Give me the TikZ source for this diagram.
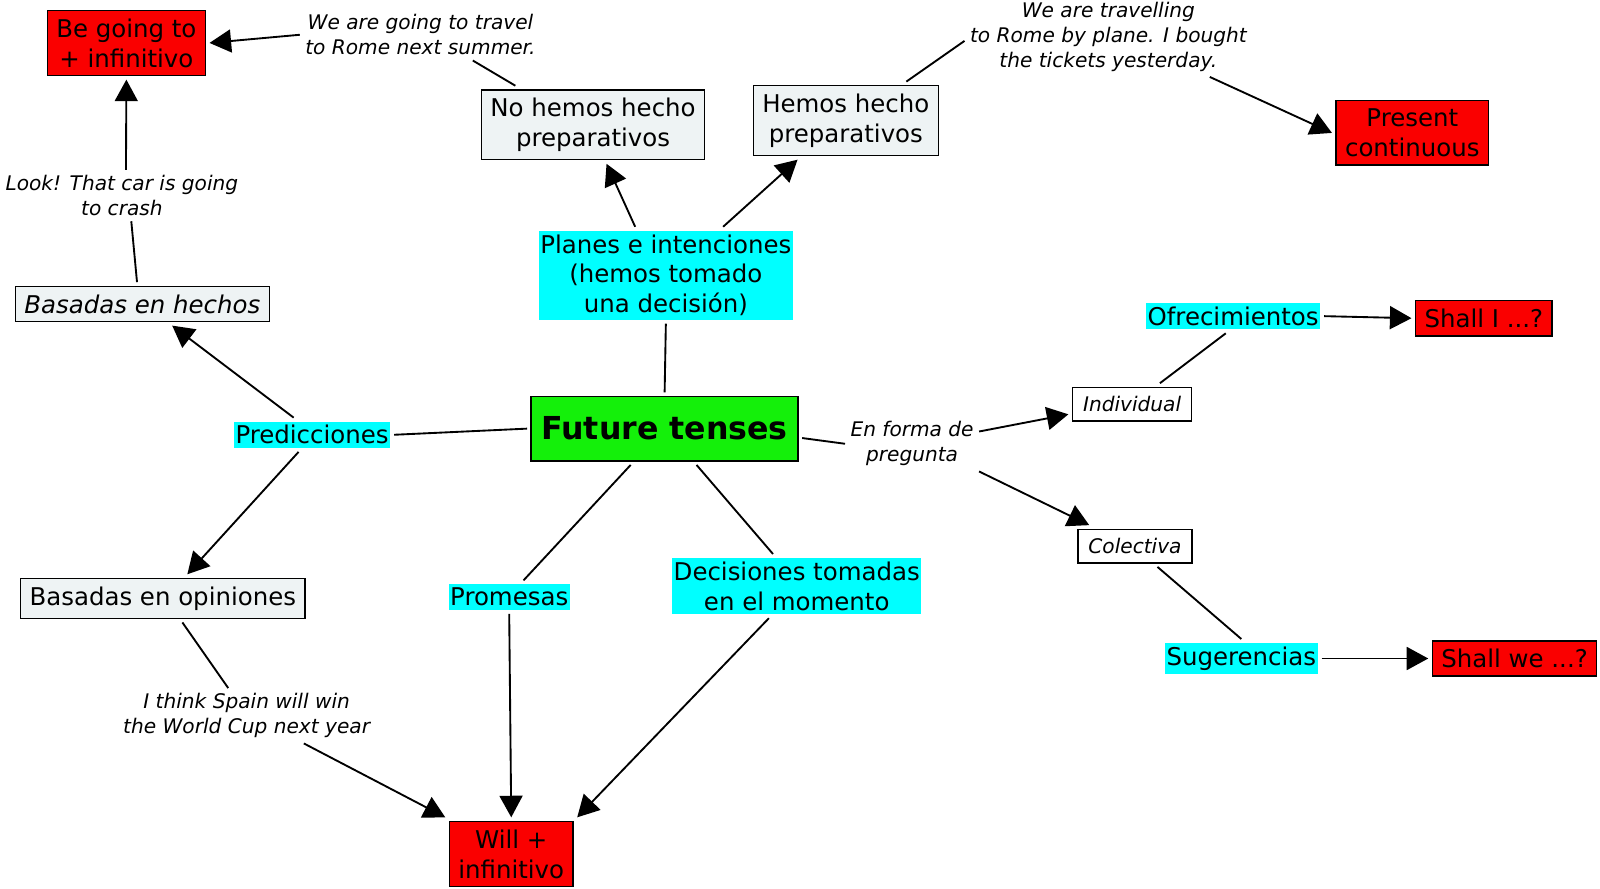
\documentclass[tikz,border=0pt]{standalone}
\usepackage{fontspec}
\setmainfont{DejaVu Sans}
\usepackage{xcolor}
\usetikzlibrary{arrows.meta}

\definecolor{boxgray}{RGB}{238,243,244}
\definecolor{tensered}{RGB}{250,0,0}
\definecolor{topiccyan}{RGB}{0,255,255}
\definecolor{titlegreen}{RGB}{20,240,10}

\begin{document}
\begin{tikzpicture}[
    % looks
    tense/.style={draw, line width=1pt, fill=tensered, align=center,
      inner xsep=0.22cm, inner ysep=0.2cm, outer sep=0.1cm,
      font=\fontsize{17}{20.8}\selectfont},
    idea/.style={draw, line width=1pt, fill=boxgray, align=center,
      inner xsep=0.22cm, inner ysep=0.2cm, outer sep=0.1cm,
      font=\fontsize{17}{20.8}\selectfont},
    topic/.style={fill=topiccyan, align=center, inner xsep=1pt, inner ysep=2.5pt,
      outer sep=0.1cm, font=\fontsize{17}{20.8}\selectfont},
    kind/.style={draw, line width=1pt, fill=white, inner xsep=0.26cm, inner ysep=0.22cm,
      outer sep=0.1cm, font=\fontsize{14}{17}\itshape},
    sample/.style={align=center, inner sep=1pt, outer sep=0.1cm,
      font=\fontsize{14}{17.3}\itshape},
    link/.style={line width=1.3pt},
    arrow/.style={line width=1.3pt, -{Triangle[length=15pt,width=16pt]}}
  ]
        \useasboundingbox (0, 0) rectangle (39.12, -21.735);

        % Future tenses
        \node [draw, line width=1pt, fill=titlegreen, inner xsep=0.25cm,
          minimum height=1.575cm, outer sep=0.1cm,
          font=\fontsize{22}{26}\bfseries] (future) at (16.25, -10.48) {Future tenses};

        % Planes e intenciones
        \node [topic] (planes) at (16.28, -6.73)
          {Planes e intenciones\\(hemos tomado\\una decisión)};
        \node [idea] (nohemos) at (14.5, -3.05) {No hemos hecho\\preparativos};
        \node [idea] (hemos) at (20.68, -2.95) {Hemos hecho\\preparativos};
        \node [sample] (travel) at (10.28, -0.85)
          {We are going to travel\\to Rome next summer.};
        \node [sample] (plane) at (27.1, -0.9)
          {We are travelling\\to Rome by plane. I bought\\the tickets yesterday.};
        \node [tense] (goingto) at (3.09, -1.05) {Be going to\\+ infinitivo};
        \node [tense] (present) at (34.53, -3.25) {Present\\continuous};

        % Predicciones
        \node [topic] (pred) at (7.63, -10.63) {Predicciones};
        \node [idea, font=\fontsize{17}{20.8}\itshape] (hechos) at (3.48, -7.43)
          {Basadas en hechos};
        \node [sample] (crash) at (2.98, -4.78) {Look! That car is going\\to crash};
        \node [idea] (opiniones) at (3.98, -14.63) {Basadas en opiniones};
        \node [sample] (spain) at (6.03, -17.5)
          {I think Spain will win\\the World Cup next year};

        % Promesas, decisiones
        \node [topic] (promesas) at (12.45, -14.6) {Promesas};
        \node [topic] (decisiones) at (19.48, -14.33)
          {Decisiones tomadas\\en el momento};
        \node [tense] (will) at (12.5, -20.88) {Will +\\infinitivo};

        % En forma de pregunta
        \node [sample] (pregunta) at (22.3, -10.85) {En forma de\\pregunta};
        \node [kind] (individual) at (27.68, -9.88) {Individual};
        \node [kind] (colectiva) at (27.75, -13.35) {Colectiva};
        \node [topic] (ofrec) at (30.15, -7.73) {Ofrecimientos};
        \node [topic] (suger) at (30.35, -16.1) {Sugerencias};
        \node [tense] (shalli) at (36.28, -7.78) {Shall I ...?};
        \node [tense] (shallwe) at (37.03, -16.1) {Shall we ...?};

        % top branch
        \draw [link] (future.north) -- (planes.south);
        \draw [arrow] ([xshift=-0.75cm]planes.north) -- ([xshift=0.33cm]nohemos.south);
        \draw [arrow] ([xshift=1.4cm]planes.north) -- ([xshift=-1.18cm]hemos.south);
        \draw [link] ([xshift=-1.9cm]nohemos.north) -- ([xshift=1.28cm]travel.south);
        \draw [arrow] (travel.west) -- (goingto.east);
        \draw [link] ([xshift=1.48cm]hemos.north) -- ([yshift=-0.1cm]plane.west);
        \draw [arrow] ([xshift=2.48cm]plane.south) -- (present.west);

        % left branch
        \draw [link] (pred.east) -- (future.west);
        \draw [arrow] ([xshift=-0.45cm]pred.north) -- ([xshift=0.73cm]hechos.south);
        \draw [link] ([xshift=-0.13cm]hechos.north) -- ([xshift=0.23cm]crash.south);
        \draw [arrow] ([xshift=0.1cm]crash.north) -- (goingto.south);
        \draw [arrow] ([xshift=-0.33cm]pred.south) -- ([xshift=0.6cm]opiniones.north);
        \draw [link] ([xshift=0.48cm]opiniones.south) -- ([xshift=-0.45cm]spain.north);
        \draw [arrow] ([xshift=1.4cm]spain.south) -- (will.north west);

        % bottom branch
        \draw [link] ([xshift=-0.83cm]future.south) -- ([xshift=0.35cm]promesas.north);
        \draw [link] ([xshift=0.78cm]future.south) -- ([xshift=-0.58cm]decisiones.north);
        \draw [arrow] (promesas.south) -- (will.north);
        \draw [arrow] ([xshift=-0.68cm]decisiones.south) -- (will.north east);

        % right branch
        \draw [link] ([yshift=-0.23cm]future.east) -- (pregunta.west);
        \draw [arrow] ([yshift=0.3cm]pregunta.east) -- ([yshift=-0.25cm]individual.west);
        \draw [arrow] (pregunta.south east) -- ([xshift=0.38cm]colectiva.north west);
        \draw [link] ([xshift=0.68cm]individual.north) -- ([xshift=-0.18cm]ofrec.south);
        \draw [arrow] (ofrec.east) -- (shalli.west);
        \draw [link] ([xshift=0.55cm]colectiva.south) -- (suger.north);
        \draw [arrow] (suger.east) -- (shallwe.west);

      \end{tikzpicture}
\end{document}
